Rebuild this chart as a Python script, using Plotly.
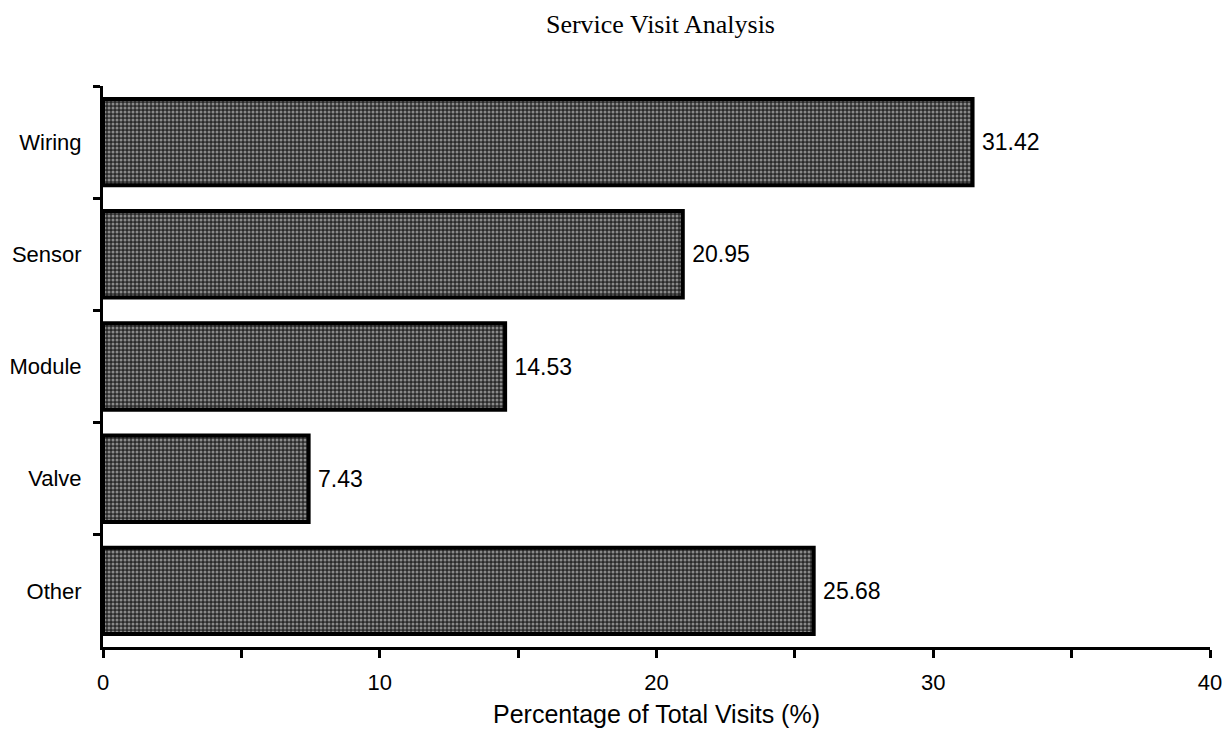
import plotly.graph_objects as go

categories = ["Wiring", "Sensor", "Module", "Valve", "Other"]
values = [31.42, 20.95, 14.53, 7.43, 25.68]
labels = ["31.42", "20.95", "14.53", "7.43", "25.68"]

fig = go.Figure(go.Bar(
    x=values, y=categories, orientation="h", width=0.77,
    marker=dict(color="#2a2a2a", line=dict(color="black", width=4),
                pattern=dict(shape=".", fgcolor="#e8e8e8", bgcolor="#2a2a2a", size=4, solidity=0.45)),
    text=labels, texttemplate="\u00a0%{text}", textposition="outside", cliponaxis=False,
    textfont=dict(family="Liberation Sans, Arial", size=23, color="black"),
))

fig.update_layout(
    width=1215, height=737,
    margin=dict(l=95, r=13, t=78, b=98),
    paper_bgcolor="white", plot_bgcolor="white",
    showlegend=False,
    title=dict(text="Service Visit Analysis", x=0.537, xanchor="center", y=0.978, yanchor="middle",
               font=dict(family="Liberation Serif, Times New Roman", size=26, color="black")),
    font=dict(family="Liberation Sans, Arial", size=22, color="black"),
)
fig.update_xaxes(range=[0, 40], dtick=10, ticks="outside", ticklen=8, tickwidth=2.5, tickcolor="black",
                 showline=True, linecolor="black", linewidth=3, showgrid=False, zeroline=False,
                 ticklabelstandoff=6, automargin=False,
                 minor=dict(dtick=5, ticks="outside", ticklen=8, tickwidth=2.5, tickcolor="black"),
                 title=dict(text="Percentage of Total Visits (%)", standoff=12,
                            font=dict(size=25)))
fig.update_yaxes(autorange="reversed", ticks="outside", tickson="boundaries", ticklen=7, tickwidth=2.5,
                 tickcolor="black", showline=True, linecolor="black", linewidth=3, showgrid=False,
                 ticklabelstandoff=14, automargin=False)

fig.write_html("out.html")
